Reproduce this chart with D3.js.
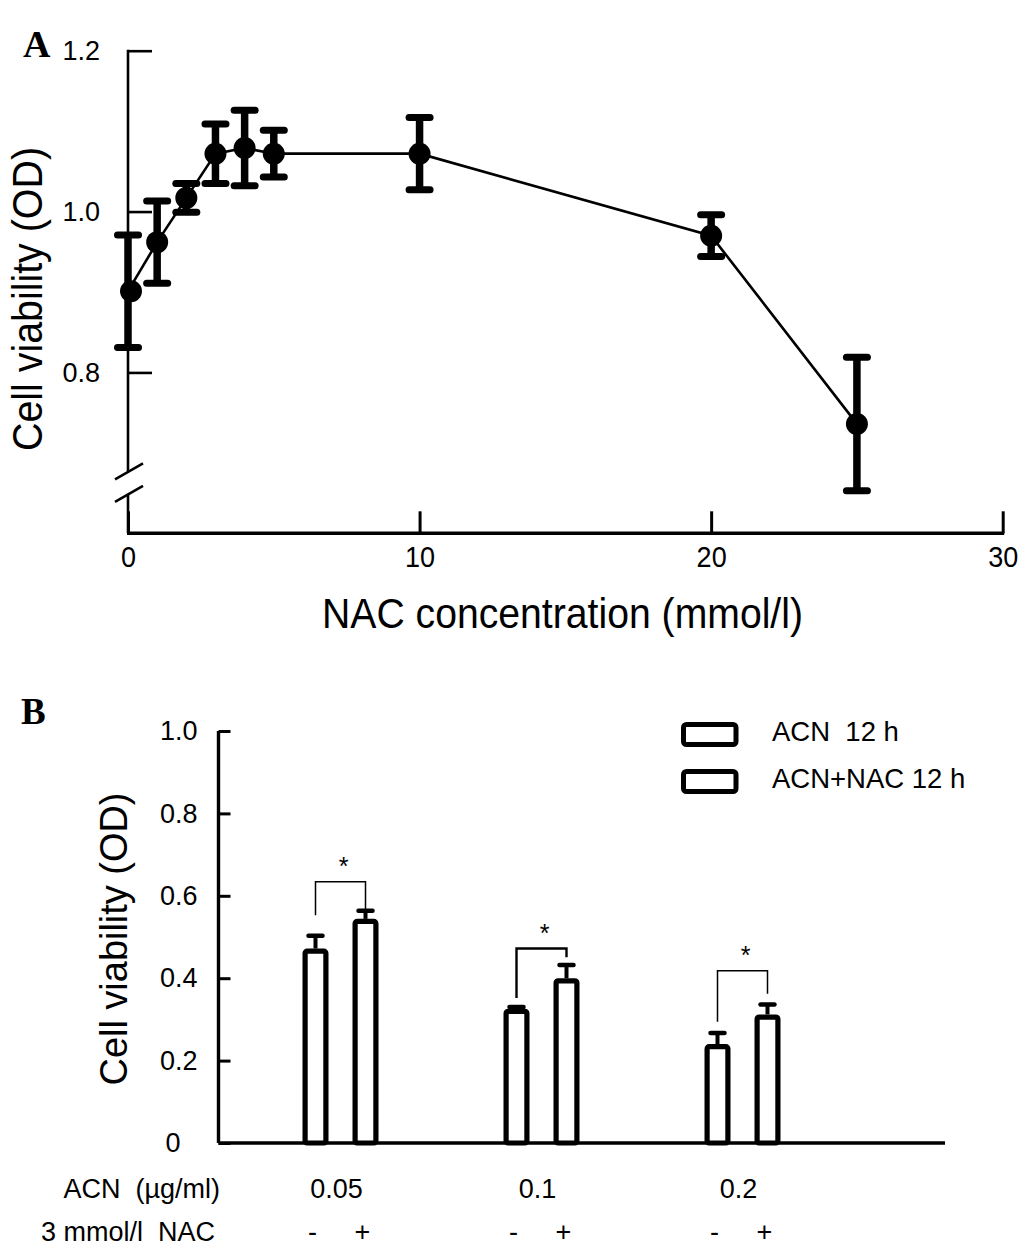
<!DOCTYPE html>
<html>
<head>
<meta charset="utf-8">
<script src="https://cdn.jsdelivr.net/npm/d3@7"></script>
<style>
  body { margin: 0; background: #fff; }
  svg text { font-family: Arial, "Liberation Sans", sans-serif; fill: #000; white-space: pre; }
</style>
</head>
<body>
<svg id="fig" width="1033" height="1249"></svg>
<script>
// panel A: NAC dose curve
const nacConc = [0, 1, 2, 3, 4, 5, 10, 20, 25];
const nacMean = [0.901, 0.962, 1.017, 1.072, 1.079, 1.072, 1.072, 0.970, 0.736];
const nacErr  = [0.070, 0.051, 0.018, 0.037, 0.047, 0.029, 0.045, 0.026, 0.083];
const aXTicks = [0, 10, 20, 30];
const aYTicks = [0.8, 1.0, 1.2];
const aBreak = [0.649, 0.677];

// panel B: ACN with / without NAC
const doses = ["0.05", "0.1", "0.2"];
const series = ["ACN  12 h", "ACN+NAC 12 h"];
const acnMean = [0.472, 0.326, 0.240];
const acnErr  = [0.031, 0.004, 0.027];
const nacAddMean = [0.544, 0.400, 0.312];
const nacAddErr  = [0.020, 0.032, 0.024];
const nacSign = ["-", "+"];
const bYTicks = [0, 0.2, 0.4, 0.6, 0.8, 1.0];
// significance brackets: top, left leg end, right leg end
const brTop   = [0.634, 0.472, 0.418];
const brLeft  = [0.553, 0.352, 0.294];
const brRight = [0.568, 0.451, 0.362];

const svg = d3.select("#fig");

// ---------- panel A ----------
const xA = d3.scaleLinear().domain([0, 30]).range([128, 1002.7]);
const yA = d3.scaleLinear().domain([0.6, 1.2]).range([533.3, 50.7]);
const gA = svg.append("g");

gA.append("text").text("A")
  .attr("x", 23).attr("y", 57)
  .style("font-family", "'Liberation Serif', 'Times New Roman', serif")
  .style("font-weight", "bold").style("font-size", "38px");

// y axis with break
const yAx = gA.append("g").attr("transform", `translate(${xA(0)},0)`)
  .call(d3.axisLeft(yA).tickValues(aYTicks).tickSize(-24).tickPadding(28).tickFormat(d3.format(".1f")));
yAx.select(".domain").remove();
yAx.selectAll(".tick line").attr("stroke-width", 2.6);
yAx.selectAll(".tick text").style("font-size", "27px").attr("font-family", null);

gA.append("line").attr("x1", xA(0)).attr("x2", xA(0))
  .attr("y1", yA(1.2) - 1).attr("y2", yA(aBreak[1]))
  .attr("stroke", "#000").attr("stroke-width", 2.6);
gA.append("line").attr("x1", xA(0)).attr("x2", xA(0))
  .attr("y1", yA(aBreak[0])).attr("y2", yA(0.6))
  .attr("stroke", "#000").attr("stroke-width", 2.6);
gA.selectAll("line.brk").data(aBreak).join("line").attr("class", "brk")
  .attr("x1", xA(0) - 13).attr("x2", xA(0) + 15)
  .attr("y1", d => yA(d) + 8).attr("y2", d => yA(d) - 8)
  .attr("stroke", "#000").attr("stroke-width", 2.6);

// x axis
const xAx = gA.append("g").attr("transform", `translate(0,${yA(0.6)})`)
  .call(d3.axisBottom(xA).tickValues(aXTicks).tickSize(-22).tickPadding(12));
xAx.select(".domain").attr("stroke-width", 3.4).attr("d", `M${xA(0) - 1},0H${xA(30) + 1.5}`);
xAx.selectAll(".tick line").attr("stroke-width", 3);
xAx.selectAll(".tick text").style("font-size", "27px").attr("font-family", null)
  .attr("transform", "scale(1,1.08)");

gA.append("text").text("Cell viability (OD)")
  .attr("transform", `translate(42,${(yA(1.2) + yA(0.6)) / 2 + 7}) rotate(-90)`)
  .attr("text-anchor", "middle").style("font-size", "42px")
  .attr("textLength", 304).attr("lengthAdjust", "spacingAndGlyphs");

gA.append("text").text("NAC concentration (mmol/l)")
  .attr("x", 322).attr("y", 628)
  .style("font-size", "42px")
  .attr("textLength", 481).attr("lengthAdjust", "spacingAndGlyphs");

const ptsA = nacConc.map((c, i) => ({ c: c, m: nacMean[i], e: nacErr[i] }));

gA.append("path").datum(ptsA)
  .attr("fill", "none").attr("stroke", "#000").attr("stroke-width", 2.6)
  .attr("d", d3.line().x(d => xA(d.c)).y(d => yA(d.m)));

const eb = gA.selectAll("g.eb").data(ptsA).join("g").attr("class", "eb");
eb.append("line")
  .attr("x1", d => xA(d.c)).attr("x2", d => xA(d.c))
  .attr("y1", d => yA(d.m - d.e)).attr("y2", d => yA(d.m + d.e))
  .attr("stroke", "#000").attr("stroke-width", 7.5);
[1, -1].forEach(s => {
  eb.append("line")
    .attr("x1", d => xA(d.c) - 10.5).attr("x2", d => xA(d.c) + 10.5)
    .attr("y1", d => yA(d.m + s * d.e)).attr("y2", d => yA(d.m + s * d.e))
    .attr("stroke", "#000").attr("stroke-width", 7).attr("stroke-linecap", "round");
});
gA.selectAll("circle").data(ptsA).join("circle")
  .attr("cx", d => xA(d.c) + (d.c === 0 ? 3 : 0)).attr("cy", d => yA(d.m)).attr("r", 11).attr("fill", "#000");

// ---------- panel B ----------
const yB = d3.scaleLinear().domain([0, 1]).range([1143, 731]);
const xB = d3.scaleBand().domain(doses).range([240, 843]);
const xSub = d3.scaleBand().domain(series).range([-38, 38]).paddingInner(0.48);
const gB = svg.append("g");
const center = d => xB(d) + xB.bandwidth() / 2;

gB.append("text").text("B")
  .attr("x", 21).attr("y", 724)
  .style("font-family", "'Liberation Serif', 'Times New Roman', serif")
  .style("font-weight", "bold").style("font-size", "37px");

const yBx = gB.append("g").attr("transform", "translate(218.5,0)")
  .call(d3.axisLeft(yB).tickValues(bYTicks).tickSize(-12).tickPadding(21)
    .tickFormat(d => d === 0 ? "0" : d.toFixed(1)));
yBx.select(".domain").attr("stroke-width", 3.4).attr("d", `M0,${yB(1)}V${yB(0)}`);
yBx.selectAll(".tick line").attr("stroke-width", 3);
yBx.selectAll(".tick text").style("font-size", "27px").attr("font-family", null)
  .attr("x", d => d === 0 ? -38 : -21);

gB.append("line").attr("x1", 218.5).attr("x2", 945)
  .attr("y1", yB(0)).attr("y2", yB(0))
  .attr("stroke", "#000").attr("stroke-width", 3.4);

gB.append("text").text("Cell viability (OD)")
  .attr("transform", `translate(127,${(yB(1) + yB(0)) / 2 + 2}) rotate(-90)`)
  .attr("text-anchor", "middle").style("font-size", "38px")
  .attr("textLength", 293).attr("lengthAdjust", "spacingAndGlyphs");

const barsB = [];
doses.forEach((d, i) => {
  barsB.push({ dose: d, s: series[0], m: acnMean[i], e: acnErr[i], sign: nacSign[0] });
  barsB.push({ dose: d, s: series[1], m: nacAddMean[i], e: nacAddErr[i], sign: nacSign[1] });
});
const barX = d => center(d.dose) + xSub(d.s);
const bw = xSub.bandwidth();

// error bars (upper only)
gB.selectAll("line.eb").data(barsB).join("line").attr("class", "eb")
  .attr("x1", d => barX(d) + bw / 2).attr("x2", d => barX(d) + bw / 2)
  .attr("y1", d => yB(d.m)).attr("y2", d => yB(d.m + d.e))
  .attr("stroke", "#000").attr("stroke-width", 4);
gB.selectAll("line.cap").data(barsB).join("line").attr("class", "cap")
  .attr("x1", d => barX(d) + bw / 2 - 7).attr("x2", d => barX(d) + bw / 2 + 7)
  .attr("y1", d => yB(d.m + d.e)).attr("y2", d => yB(d.m + d.e))
  .attr("stroke", "#000").attr("stroke-width", 4.5).attr("stroke-linecap", "round");

gB.selectAll("rect.bar").data(barsB).join("rect").attr("class", "bar")
  .attr("x", d => barX(d) + 2.6).attr("width", bw - 5.2)
  .attr("y", d => yB(d.m) + 2.6).attr("height", d => yB(0) - yB(d.m) - 2.6)
  .attr("rx", 2)
  .attr("fill", "#fff").attr("stroke", "#000").attr("stroke-width", 5.2);

// significance brackets
doses.forEach((d, i) => {
  const xl = center(d) + xSub(series[0]) + bw / 2;
  const xr = center(d) + xSub(series[1]) + bw / 2;
  gB.append("path")
    .attr("d", `M${xl},${yB(brLeft[i])}V${yB(brTop[i])}H${xr}V${yB(brRight[i])}`)
    .attr("fill", "none").attr("stroke", "#000").attr("stroke-width", i === 1 ? 2.4 : 1.5);
  gB.append("text").text("*")
    .attr("x", center(d) + 3).attr("y", yB(brTop[i]) - 7)
    .attr("text-anchor", "middle").style("font-size", "25px");
});

// category rows under the axis
gB.append("text").text("ACN  (µg/ml)")
  .attr("x", 220).attr("y", 1198).attr("text-anchor", "end").style("font-size", "27px");
gB.selectAll("text.dose").data(doses).join("text").attr("class", "dose")
  .text(d => d)
  .attr("x", d => center(d) - 4).attr("y", 1198)
  .attr("text-anchor", "middle").style("font-size", "27px");
gB.append("text").text("3 mmol/l  NAC")
  .attr("x", 215).attr("y", 1241).attr("text-anchor", "end").style("font-size", "27px");
gB.selectAll("text.sign").data(barsB).join("text").attr("class", "sign")
  .text(d => d.sign)
  .attr("x", d => barX(d) + bw / 2 - 3).attr("y", 1241)
  .attr("text-anchor", "middle").style("font-size", "27px");

// legend
const leg = gB.selectAll("g.leg").data(series).join("g").attr("class", "leg")
  .attr("transform", (d, i) => `translate(681,${722 + i * 47})`);
leg.append("rect").attr("x", 2.5).attr("y", 2.5).attr("width", 52.5).attr("height", 20)
  .attr("rx", 3).attr("fill", "#fff").attr("stroke", "#000").attr("stroke-width", 5);
leg.append("text").text(d => d)
  .attr("x", 91).attr("y", 19).style("font-size", "27.5px");
</script>
</body>
</html>
